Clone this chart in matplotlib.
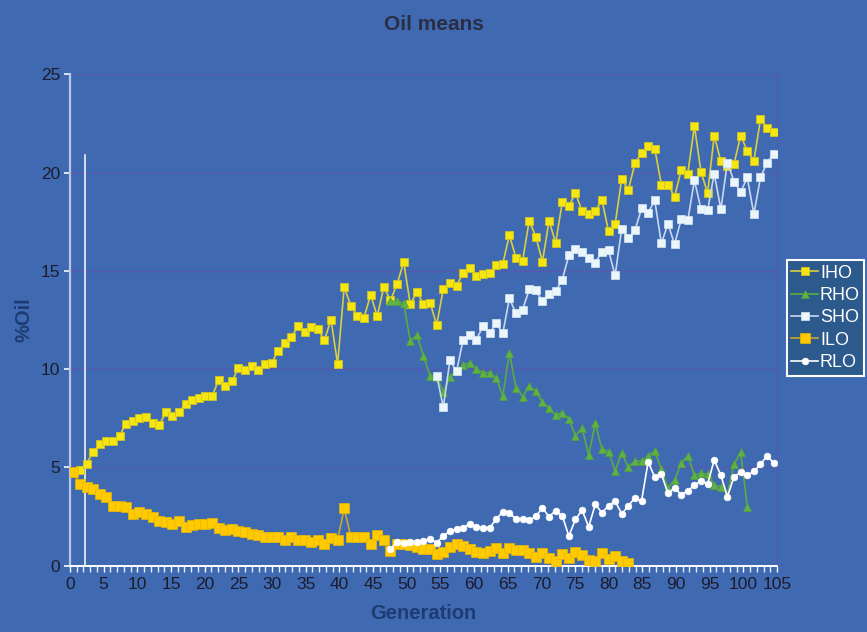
import numpy as np
import matplotlib
matplotlib.use('Agg')
import matplotlib.pyplot as plt
from matplotlib.ticker import MultipleLocator, NullLocator

plt.rcParams['font.family'] = ['Liberation Sans', 'DejaVu Sans']

# ---------------- data ----------------
iho = [4.75, 4.88, 5.19, 5.76, 6.2, 6.36, 6.36, 6.61, 7.22, 7.37,
       7.49, 7.54, 7.27, 7.13, 7.8, 7.63, 7.8, 8.24, 8.4, 8.54,
       8.61, 8.61, 9.46, 9.12, 9.37, 10.05, 9.96, 10.13, 9.96, 10.28,
       10.3, 10.93, 11.32, 11.61, 12.19, 11.9, 12.15, 12.05, 11.46, 12.52,
       10.25, 14.18, 13.22, 12.69, 12.62, 13.78, 12.69, 14.18, 13.49, 14.32,
       15.44, 13.3, 13.9, 13.3, 13.36, 12.25, 14.08, 14.4, 14.25, 14.88,
       15.12, 14.73, 14.83, 14.91, 15.29, 15.37, 16.81, 15.66, 15.52, 17.55,
       16.73, 15.46, 17.55, 16.42, 18.49, 18.29, 18.96, 18.03, 17.9, 18.03,
       18.61, 17.02, 17.37, 19.69, 19.12, 20.47, 21.01, 21.35, 21.2, 19.39,
       19.39, 18.78, 20.12, 19.95, 22.37, 20.03, 18.96, 21.88, 20.57, 20.34,
       20.44, 21.88, 21.11, 20.6, 22.71, 22.28, 22.06]

rho_start = 48
rho = [13.45, 13.45, 13.35, 11.43, 11.72, 10.67, 9.64, 9.6, 8.83, 9.6,
       9.9, 10.18, 10.33, 10.0, 9.81, 9.81, 9.55, 8.62, 10.84, 9.05,
       8.6, 9.13, 8.88, 8.32, 8.0, 7.66, 7.77, 7.47, 6.6, 6.99,
       5.62, 7.23, 5.92, 5.8, 4.82, 5.72, 5.0, 5.33, 5.3, 5.57,
       5.82, 4.89, 3.93, 4.35, 5.2, 5.59, 4.6, 4.69, 4.64, 4.08,
       4.01, 3.59, 5.16, 5.76, 2.99]

sho_start = 55
sho = [9.67, 8.05, 10.44, 9.88, 11.5, 11.72, 11.5, 12.17, 11.81, 12.33,
       11.81, 13.59, 12.83, 13.02, 14.05, 14.0, 13.45, 13.84, 13.95, 14.55,
       15.78, 16.1, 15.95, 15.63, 15.42, 15.94, 16.04, 14.76, 17.15, 16.66,
       17.06, 18.17, 17.96, 18.58, 16.39, 17.4, 16.34, 17.63, 17.57, 19.61,
       18.13, 18.08, 19.95, 18.13, 20.51, 19.54, 19.0, 19.75, 17.88, 19.75,
       20.51, 20.93]

ilo = [4.74, 4.15, 3.98, 3.89, 3.62, 3.5, 3.03, 3.03, 2.96, 2.6,
       2.74, 2.62, 2.45, 2.28, 2.23, 2.1, 2.26, 1.94, 2.06, 2.11,
       2.11, 2.18, 1.89, 1.81, 1.86, 1.75, 1.69, 1.6, 1.55, 1.47,
       1.47, 1.47, 1.3, 1.43, 1.3, 1.3, 1.21, 1.3, 1.09, 1.38,
       1.3, 2.91, 1.47, 1.47, 1.47, 1.09, 1.55, 1.3, 0.74, 1.08,
       1.08, 1.03, 0.93, 0.82, 0.82, 0.58, 0.7, 0.93, 1.09, 0.99,
       0.82, 0.69, 0.62, 0.74, 0.91, 0.62, 0.87, 0.79, 0.79, 0.62,
       0.42, 0.65, 0.4, 0.24, 0.57, 0.4, 0.7, 0.53, 0.28, 0.23,
       0.62, 0.33, 0.5, 0.23, 0.11]

rlo_start = 48
rlo = [0.82, 1.21, 1.13, 1.21, 1.21, 1.26, 1.36, 1.16, 1.5, 1.75,
       1.87, 1.92, 2.11, 1.96, 1.92, 1.92, 2.35, 2.74, 2.69, 2.35,
       2.35, 2.3, 2.5, 2.94, 2.48, 2.79, 2.53, 1.5, 2.35, 2.82,
       1.97, 3.11, 2.69, 3.03, 3.28, 2.63, 3.03, 3.45, 3.28, 5.28,
       4.49, 4.65, 3.67, 3.96, 3.6, 3.8, 4.09, 4.3, 4.15, 5.37,
       4.59, 3.5, 4.52, 4.74, 4.59, 4.79, 5.15, 5.59, 5.21]

n_categories = 107
x_tick_labels = list(range(0, 106, 5))
label_axis_max = 105
ref_line_x = 1.82
ref_line_top = 20.9

# ---------------- style ----------------
BG = '#3F69B1'
GRID = '#5759AE'
fig = plt.figure(figsize=(8.67, 6.32), dpi=100, facecolor=BG)
ax = fig.add_axes([70/867, 1-565.5/632, 707/867, (565.5-74.3)/632])
ax.set_facecolor(BG)

def xs(start, vals):
    return np.arange(start, start + len(vals))

ax.plot(xs(0, iho), iho, color='#D8D040', lw=1.2, marker='s', ms=5.2,
        mfc='#F5E612', mec='#D0C420', mew=0.6, label='IHO', zorder=3)
ax.plot(xs(rho_start, rho), rho, color='#5BAA45', lw=1.2, marker='^', ms=6,
        mfc='#5DB344', mec='#55A040', mew=0.5, label='RHO', zorder=3)
ax.plot(xs(sho_start, sho), sho, color='#C8D8F0', lw=1.2, marker='s', ms=5.8,
        mfc='#EAF6FA', mec='#D8E8F4', mew=0.5, label='SHO', zorder=4)
ax.plot(xs(0, ilo), ilo, color='#C8A830', lw=1.2, marker='s', ms=6.5,
        mfc='#FFCA00', mec='#E8B800', mew=0.5, label='ILO', zorder=5)
ax.plot(xs(rlo_start, rlo), rlo, color='#FFFFFF', lw=1.2, marker='o', ms=4.8,
        mfc='#FFFFFF', mec='#FFFFFF', mew=0.5, label='RLO', zorder=6)

ax.plot([ref_line_x, ref_line_x], [0, ref_line_top], color='white', lw=1.1, zorder=2)

ax.set_xlim(-0.5, n_categories - 0.5)
ax.set_ylim(0, 25)
ax.yaxis.set_major_locator(MultipleLocator(5))
ax.grid(axis='y', color=GRID, lw=0.9, zorder=0)
ax.set_axisbelow(True)

ax.xaxis.set_major_locator(NullLocator())
ax.xaxis.set_minor_locator(NullLocator())

ax.spines['top'].set_visible(False)
ax.spines['right'].set_color(GRID)
ax.spines['right'].set_linewidth(0.9)
ax.spines['left'].set_color('#B8C6E6')
ax.spines['left'].set_linewidth(1.6)
ax.spines['bottom'].set_color('#FFFFFF')
ax.spines['bottom'].set_linewidth(1.3)

ax.tick_params(axis='y', colors='#E8EEFA', labelcolor='#1C1C2C', length=4,
               width=1.3, labelsize=12.5, pad=3)

# label axis (0..105 across the whole width)
scale = label_axis_max / n_categories
sec = ax.secondary_xaxis('bottom',
                         functions=(lambda k: (k + 0.5) * scale,
                                    lambda v: v / scale - 0.5))
sec.set_xticks(x_tick_labels)
sec.xaxis.set_minor_locator(MultipleLocator(1))
sec.tick_params(axis='x', which='major', length=4, width=1.0, colors='#FFFFFF',
                labelcolor='#1C1C2C', labelsize=12.5, pad=4)
sec.tick_params(axis='x', which='minor', length=4, width=1.0, colors='#E8EEFA')
sec.spines['bottom'].set_color('#FFFFFF')
sec.spines['bottom'].set_linewidth(1.3)
sec.set_xlabel('Generation', fontsize=14.5, fontweight='bold', color='#1E3C74', labelpad=9)

ax.set_ylabel('%Oil', fontsize=14.5, fontweight='bold', color='#1E3C74', labelpad=5)

fig.text(0.5, 1 - 25/632, 'Oil means', ha='center', va='center',
         fontsize=15, fontweight='bold', color='#2A2E44')

leg = fig.legend(loc='upper left', bbox_to_anchor=(786.5/867, 1 - 260/632),
                 frameon=True, fancybox=False, fontsize=13, handlelength=1.5,
                 handletextpad=0.1, labelspacing=0.3, borderpad=0.25,
                 borderaxespad=0)
leg.get_frame().set_facecolor('#2C5A8C')
leg.get_frame().set_edgecolor('#FFFFFF')
leg.get_frame().set_linewidth(1.5)
leg.get_frame().set_alpha(1)
for t in leg.get_texts():
    t.set_color('white')

fig.savefig('out.png', dpi=100, facecolor=BG)
